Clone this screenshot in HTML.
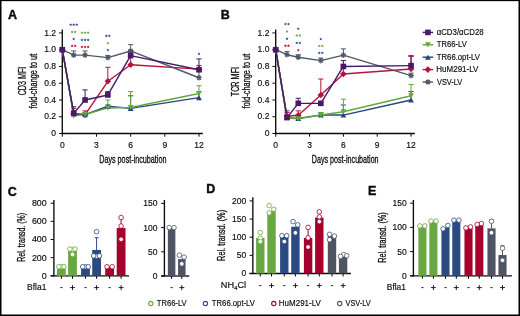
<!DOCTYPE html>
<html><head><meta charset="utf-8"><style>
html,body{margin:0;padding:0;background:#fff;}
body{width:520px;height:316px;overflow:hidden;}
svg{display:block;font-family:"Liberation Sans",sans-serif;will-change:transform;}
</style></head><body>
<svg width="520" height="316" viewBox="0 0 520 316">
<rect x="0" y="0" width="520" height="316" fill="#fff"/>
<line x1="62.30" y1="29.40" x2="62.30" y2="134.10" stroke="#0a0a0a" stroke-width="1.35" />
<line x1="61.70" y1="133.50" x2="202.78" y2="133.50" stroke="#0a0a0a" stroke-width="1.35" />
<line x1="59.00" y1="133.50" x2="62.30" y2="133.50" stroke="#0a0a0a" stroke-width="1.0" />
<text x="56.00" y="136.15" font-size="8.5" text-anchor="end" fill="#0a0a0a" font-weight="normal" stroke="#0a0a0a" stroke-width="0.15" >0</text>
<line x1="59.00" y1="116.74" x2="62.30" y2="116.74" stroke="#0a0a0a" stroke-width="1.0" />
<text x="56.00" y="119.39" font-size="8.5" text-anchor="end" fill="#0a0a0a" font-weight="normal" stroke="#0a0a0a" stroke-width="0.15" >0.2</text>
<line x1="59.00" y1="99.98" x2="62.30" y2="99.98" stroke="#0a0a0a" stroke-width="1.0" />
<text x="56.00" y="102.63" font-size="8.5" text-anchor="end" fill="#0a0a0a" font-weight="normal" stroke="#0a0a0a" stroke-width="0.15" >0.4</text>
<line x1="59.00" y1="83.22" x2="62.30" y2="83.22" stroke="#0a0a0a" stroke-width="1.0" />
<text x="56.00" y="85.87" font-size="8.5" text-anchor="end" fill="#0a0a0a" font-weight="normal" stroke="#0a0a0a" stroke-width="0.15" >0.6</text>
<line x1="59.00" y1="66.46" x2="62.30" y2="66.46" stroke="#0a0a0a" stroke-width="1.0" />
<text x="56.00" y="69.11" font-size="8.5" text-anchor="end" fill="#0a0a0a" font-weight="normal" stroke="#0a0a0a" stroke-width="0.15" >0.8</text>
<line x1="59.00" y1="49.70" x2="62.30" y2="49.70" stroke="#0a0a0a" stroke-width="1.0" />
<text x="56.00" y="52.35" font-size="8.5" text-anchor="end" fill="#0a0a0a" font-weight="normal" stroke="#0a0a0a" stroke-width="0.15" >1.0</text>
<line x1="59.00" y1="32.94" x2="62.30" y2="32.94" stroke="#0a0a0a" stroke-width="1.0" />
<text x="56.00" y="35.59" font-size="8.5" text-anchor="end" fill="#0a0a0a" font-weight="normal" stroke="#0a0a0a" stroke-width="0.15" >1.2</text>
<line x1="62.30" y1="133.50" x2="62.30" y2="136.70" stroke="#0a0a0a" stroke-width="1.0" />
<text x="62.30" y="147.80" font-size="8.5" text-anchor="middle" fill="#0a0a0a" font-weight="normal" stroke="#0a0a0a" stroke-width="0.15" >0</text>
<line x1="96.47" y1="133.50" x2="96.47" y2="136.70" stroke="#0a0a0a" stroke-width="1.0" />
<text x="96.47" y="147.80" font-size="8.5" text-anchor="middle" fill="#0a0a0a" font-weight="normal" stroke="#0a0a0a" stroke-width="0.15" >3</text>
<line x1="130.64" y1="133.50" x2="130.64" y2="136.70" stroke="#0a0a0a" stroke-width="1.0" />
<text x="130.64" y="147.80" font-size="8.5" text-anchor="middle" fill="#0a0a0a" font-weight="normal" stroke="#0a0a0a" stroke-width="0.15" >6</text>
<line x1="164.81" y1="133.50" x2="164.81" y2="136.70" stroke="#0a0a0a" stroke-width="1.0" />
<text x="164.81" y="147.80" font-size="8.5" text-anchor="middle" fill="#0a0a0a" font-weight="normal" stroke="#0a0a0a" stroke-width="0.15" >9</text>
<line x1="198.98" y1="133.50" x2="198.98" y2="136.70" stroke="#0a0a0a" stroke-width="1.0" />
<text x="198.98" y="147.80" font-size="8.5" text-anchor="middle" fill="#0a0a0a" font-weight="normal" stroke="#0a0a0a" stroke-width="0.15" >12</text>
<polyline points="62.30,49.70 73.69,113.39 85.08,114.64 107.86,81.29 130.64,64.78 198.98,69.14" fill="none" stroke="#b8123a" stroke-width="1.4" stroke-linejoin="round"/>
<line x1="73.69" y1="113.39" x2="73.69" y2="108.36" stroke="#b8123a" stroke-width="1.0" />
<line x1="71.09" y1="108.36" x2="76.29" y2="108.36" stroke="#b8123a" stroke-width="1.0" />
<line x1="85.08" y1="114.64" x2="85.08" y2="110.87" stroke="#b8123a" stroke-width="1.0" />
<line x1="82.48" y1="110.87" x2="87.68" y2="110.87" stroke="#b8123a" stroke-width="1.0" />
<line x1="107.86" y1="81.29" x2="107.86" y2="67.30" stroke="#b8123a" stroke-width="1.0" />
<line x1="105.26" y1="67.30" x2="110.46" y2="67.30" stroke="#b8123a" stroke-width="1.0" />
<line x1="130.64" y1="64.78" x2="130.64" y2="52.63" stroke="#b8123a" stroke-width="1.0" />
<line x1="128.04" y1="52.63" x2="133.24" y2="52.63" stroke="#b8123a" stroke-width="1.0" />
<line x1="198.98" y1="69.14" x2="198.98" y2="65.45" stroke="#b8123a" stroke-width="1.0" />
<line x1="196.38" y1="65.45" x2="201.58" y2="65.45" stroke="#b8123a" stroke-width="1.0" />
<polyline points="62.30,49.70 73.69,55.15 85.08,55.15 107.86,57.66 130.64,50.96 198.98,77.77" fill="none" stroke="#4f5867" stroke-width="1.4" stroke-linejoin="round"/>
<line x1="73.69" y1="55.15" x2="73.69" y2="50.96" stroke="#4f5867" stroke-width="1.0" />
<line x1="71.09" y1="50.96" x2="76.29" y2="50.96" stroke="#4f5867" stroke-width="1.0" />
<line x1="85.08" y1="55.15" x2="85.08" y2="50.96" stroke="#4f5867" stroke-width="1.0" />
<line x1="82.48" y1="50.96" x2="87.68" y2="50.96" stroke="#4f5867" stroke-width="1.0" />
<line x1="107.86" y1="57.66" x2="107.86" y2="55.57" stroke="#4f5867" stroke-width="1.0" />
<line x1="105.26" y1="55.57" x2="110.46" y2="55.57" stroke="#4f5867" stroke-width="1.0" />
<line x1="130.64" y1="50.96" x2="130.64" y2="44.67" stroke="#4f5867" stroke-width="1.0" />
<line x1="128.04" y1="44.67" x2="133.24" y2="44.67" stroke="#4f5867" stroke-width="1.0" />
<line x1="198.98" y1="77.77" x2="198.98" y2="71.49" stroke="#4f5867" stroke-width="1.0" />
<line x1="196.38" y1="71.49" x2="201.58" y2="71.49" stroke="#4f5867" stroke-width="1.0" />
<polyline points="62.30,49.70 73.69,113.81 85.08,114.64 107.86,106.27 130.64,108.36 198.98,97.63" fill="none" stroke="#254482" stroke-width="1.4" stroke-linejoin="round"/>
<line x1="73.69" y1="113.81" x2="73.69" y2="106.68" stroke="#254482" stroke-width="1.0" />
<line x1="71.09" y1="106.68" x2="76.29" y2="106.68" stroke="#254482" stroke-width="1.0" />
<line x1="85.08" y1="114.64" x2="85.08" y2="112.55" stroke="#254482" stroke-width="1.0" />
<line x1="82.48" y1="112.55" x2="87.68" y2="112.55" stroke="#254482" stroke-width="1.0" />
<line x1="107.86" y1="106.27" x2="107.86" y2="105.01" stroke="#254482" stroke-width="1.0" />
<line x1="105.26" y1="105.01" x2="110.46" y2="105.01" stroke="#254482" stroke-width="1.0" />
<line x1="130.64" y1="108.36" x2="130.64" y2="95.79" stroke="#254482" stroke-width="1.0" />
<line x1="128.04" y1="95.79" x2="133.24" y2="95.79" stroke="#254482" stroke-width="1.0" />
<line x1="198.98" y1="97.63" x2="198.98" y2="91.60" stroke="#254482" stroke-width="1.0" />
<line x1="196.38" y1="91.60" x2="201.58" y2="91.60" stroke="#254482" stroke-width="1.0" />
<polyline points="62.30,49.70 73.69,115.90 85.08,114.64 107.86,107.94 130.64,107.52 198.98,93.44" fill="none" stroke="#62a93a" stroke-width="1.4" stroke-linejoin="round"/>
<line x1="73.69" y1="115.90" x2="73.69" y2="111.71" stroke="#62a93a" stroke-width="1.0" />
<line x1="71.09" y1="111.71" x2="76.29" y2="111.71" stroke="#62a93a" stroke-width="1.0" />
<line x1="85.08" y1="114.64" x2="85.08" y2="112.55" stroke="#62a93a" stroke-width="1.0" />
<line x1="82.48" y1="112.55" x2="87.68" y2="112.55" stroke="#62a93a" stroke-width="1.0" />
<line x1="107.86" y1="107.94" x2="107.86" y2="99.98" stroke="#62a93a" stroke-width="1.0" />
<line x1="105.26" y1="99.98" x2="110.46" y2="99.98" stroke="#62a93a" stroke-width="1.0" />
<line x1="130.64" y1="107.52" x2="130.64" y2="91.60" stroke="#62a93a" stroke-width="1.0" />
<line x1="128.04" y1="91.60" x2="133.24" y2="91.60" stroke="#62a93a" stroke-width="1.0" />
<line x1="198.98" y1="93.44" x2="198.98" y2="85.73" stroke="#62a93a" stroke-width="1.0" />
<line x1="196.38" y1="85.73" x2="201.58" y2="85.73" stroke="#62a93a" stroke-width="1.0" />
<polyline points="62.30,49.70 73.69,113.39 85.08,99.98 107.86,94.95 130.64,55.57 198.98,69.73" fill="none" stroke="#461a69" stroke-width="1.4" stroke-linejoin="round"/>
<line x1="73.69" y1="113.39" x2="73.69" y2="110.87" stroke="#461a69" stroke-width="1.0" />
<line x1="71.09" y1="110.87" x2="76.29" y2="110.87" stroke="#461a69" stroke-width="1.0" />
<line x1="85.08" y1="99.98" x2="85.08" y2="89.92" stroke="#461a69" stroke-width="1.0" />
<line x1="82.48" y1="89.92" x2="87.68" y2="89.92" stroke="#461a69" stroke-width="1.0" />
<line x1="107.86" y1="94.95" x2="107.86" y2="91.60" stroke="#461a69" stroke-width="1.0" />
<line x1="105.26" y1="91.60" x2="110.46" y2="91.60" stroke="#461a69" stroke-width="1.0" />
<line x1="130.64" y1="55.57" x2="130.64" y2="50.54" stroke="#461a69" stroke-width="1.0" />
<line x1="128.04" y1="50.54" x2="133.24" y2="50.54" stroke="#461a69" stroke-width="1.0" />
<line x1="198.98" y1="69.73" x2="198.98" y2="58.92" stroke="#461a69" stroke-width="1.0" />
<line x1="196.38" y1="58.92" x2="201.58" y2="58.92" stroke="#461a69" stroke-width="1.0" />
<polygon points="62.30,46.40 65.60,49.70 62.30,53.00 59.00,49.70" fill="#b8123a"/>
<polygon points="73.69,110.09 76.99,113.39 73.69,116.69 70.39,113.39" fill="#b8123a"/>
<polygon points="85.08,111.34 88.38,114.64 85.08,117.94 81.78,114.64" fill="#b8123a"/>
<polygon points="107.86,77.99 111.16,81.29 107.86,84.59 104.56,81.29" fill="#b8123a"/>
<polygon points="130.64,61.48 133.94,64.78 130.64,68.08 127.34,64.78" fill="#b8123a"/>
<polygon points="198.98,65.84 202.28,69.14 198.98,72.44 195.68,69.14" fill="#b8123a"/>
<path d="M62.30,46.90L62.30,52.50M64.28,47.72L60.32,51.68M65.10,49.70L59.50,49.70M64.28,51.68L60.32,47.72" stroke="#4f5867" stroke-width="1.15" fill="none"/>
<path d="M73.69,52.35L73.69,57.95M75.67,53.17L71.71,57.13M76.49,55.15L70.89,55.15M75.67,57.13L71.71,53.17" stroke="#4f5867" stroke-width="1.15" fill="none"/>
<path d="M85.08,52.35L85.08,57.95M87.06,53.17L83.10,57.13M87.88,55.15L82.28,55.15M87.06,57.13L83.10,53.17" stroke="#4f5867" stroke-width="1.15" fill="none"/>
<path d="M107.86,54.86L107.86,60.46M109.84,55.68L105.88,59.64M110.66,57.66L105.06,57.66M109.84,59.64L105.88,55.68" stroke="#4f5867" stroke-width="1.15" fill="none"/>
<path d="M130.64,48.16L130.64,53.76M132.62,48.98L128.66,52.94M133.44,50.96L127.84,50.96M132.62,52.94L128.66,48.98" stroke="#4f5867" stroke-width="1.15" fill="none"/>
<path d="M198.98,74.97L198.98,80.57M200.96,75.79L197.00,79.75M201.78,77.77L196.18,77.77M200.96,79.75L197.00,75.79" stroke="#4f5867" stroke-width="1.15" fill="none"/>
<polygon points="59.40,52.22 65.20,52.22 62.30,47.18" fill="#254482"/>
<polygon points="70.79,116.33 76.59,116.33 73.69,111.28" fill="#254482"/>
<polygon points="82.18,117.17 87.98,117.17 85.08,112.12" fill="#254482"/>
<polygon points="104.96,108.79 110.76,108.79 107.86,103.74" fill="#254482"/>
<polygon points="127.74,110.88 133.54,110.88 130.64,105.84" fill="#254482"/>
<polygon points="196.08,100.16 201.88,100.16 198.98,95.11" fill="#254482"/>
<polygon points="59.40,47.18 65.20,47.18 62.30,52.22" fill="#62a93a"/>
<polygon points="70.79,113.38 76.59,113.38 73.69,118.42" fill="#62a93a"/>
<polygon points="82.18,112.12 87.98,112.12 85.08,117.17" fill="#62a93a"/>
<polygon points="104.96,105.42 110.76,105.42 107.86,110.46" fill="#62a93a"/>
<polygon points="127.74,105.00 133.54,105.00 130.64,110.05" fill="#62a93a"/>
<polygon points="196.08,90.92 201.88,90.92 198.98,95.97" fill="#62a93a"/>
<rect x="59.50" y="46.90" width="5.6" height="5.6" fill="#461a69"/>
<rect x="70.89" y="110.59" width="5.6" height="5.6" fill="#461a69"/>
<rect x="82.28" y="97.18" width="5.6" height="5.6" fill="#461a69"/>
<rect x="105.06" y="92.15" width="5.6" height="5.6" fill="#461a69"/>
<rect x="127.84" y="52.77" width="5.6" height="5.6" fill="#461a69"/>
<rect x="196.18" y="66.93" width="5.6" height="5.6" fill="#461a69"/>
<polygon points="70.64,23.15 71.14,24.01 72.11,24.22 71.45,24.96 71.55,25.95 70.64,25.55 69.73,25.95 69.83,24.96 69.17,24.22 70.14,24.01" fill="#65418e"/>
<polygon points="73.69,23.15 74.19,24.01 75.16,24.22 74.50,24.96 74.60,25.95 73.69,25.55 72.78,25.95 72.88,24.96 72.22,24.22 73.19,24.01" fill="#65418e"/>
<polygon points="76.74,23.15 77.24,24.01 78.21,24.22 77.55,24.96 77.65,25.95 76.74,25.55 75.83,25.95 75.93,24.96 75.27,24.22 76.24,24.01" fill="#65418e"/>
<polygon points="72.16,30.45 72.67,31.31 73.64,31.52 72.98,32.26 73.08,33.25 72.16,32.85 71.25,33.25 71.35,32.26 70.69,31.52 71.66,31.31" fill="#6aae45"/>
<polygon points="75.22,30.45 75.72,31.31 76.69,31.52 76.03,32.26 76.13,33.25 75.22,32.85 74.30,33.25 74.40,32.26 73.74,31.52 74.71,31.31" fill="#6aae45"/>
<polygon points="73.69,37.45 74.19,38.31 75.16,38.52 74.50,39.26 74.60,40.25 73.69,39.85 72.78,40.25 72.88,39.26 72.22,38.52 73.19,38.31" fill="#375894"/>
<polygon points="72.16,44.45 72.67,45.31 73.64,45.52 72.98,46.26 73.08,47.25 72.16,46.85 71.25,47.25 71.35,46.26 70.69,45.52 71.66,45.31" fill="#c21c3e"/>
<polygon points="75.22,44.45 75.72,45.31 76.69,45.52 76.03,46.26 76.13,47.25 75.22,46.85 74.30,47.25 74.40,46.26 73.74,45.52 74.71,45.31" fill="#c21c3e"/>
<polygon points="82.03,31.15 82.53,32.01 83.50,32.22 82.84,32.96 82.94,33.95 82.03,33.55 81.12,33.95 81.22,32.96 80.56,32.22 81.53,32.01" fill="#6aae45"/>
<polygon points="85.08,31.15 85.58,32.01 86.55,32.22 85.89,32.96 85.99,33.95 85.08,33.55 84.17,33.95 84.27,32.96 83.61,32.22 84.58,32.01" fill="#6aae45"/>
<polygon points="88.13,31.15 88.63,32.01 89.60,32.22 88.94,32.96 89.04,33.95 88.13,33.55 87.22,33.95 87.32,32.96 86.66,32.22 87.63,32.01" fill="#6aae45"/>
<polygon points="82.03,38.45 82.53,39.31 83.50,39.52 82.84,40.26 82.94,41.25 82.03,40.85 81.12,41.25 81.22,40.26 80.56,39.52 81.53,39.31" fill="#375894"/>
<polygon points="85.08,38.45 85.58,39.31 86.55,39.52 85.89,40.26 85.99,41.25 85.08,40.85 84.17,41.25 84.27,40.26 83.61,39.52 84.58,39.31" fill="#375894"/>
<polygon points="88.13,38.45 88.63,39.31 89.60,39.52 88.94,40.26 89.04,41.25 88.13,40.85 87.22,41.25 87.32,40.26 86.66,39.52 87.63,39.31" fill="#375894"/>
<polygon points="82.03,45.45 82.53,46.31 83.50,46.52 82.84,47.26 82.94,48.25 82.03,47.85 81.12,48.25 81.22,47.26 80.56,46.52 81.53,46.31" fill="#c21c3e"/>
<polygon points="85.08,45.45 85.58,46.31 86.55,46.52 85.89,47.26 85.99,48.25 85.08,47.85 84.17,48.25 84.27,47.26 83.61,46.52 84.58,46.31" fill="#c21c3e"/>
<polygon points="88.13,45.45 88.63,46.31 89.60,46.52 88.94,47.26 89.04,48.25 88.13,47.85 87.22,48.25 87.32,47.26 86.66,46.52 87.63,46.31" fill="#c21c3e"/>
<polygon points="106.33,34.35 106.84,35.21 107.81,35.42 107.15,36.16 107.25,37.15 106.33,36.75 105.42,37.15 105.52,36.16 104.86,35.42 105.83,35.21" fill="#65418e"/>
<polygon points="109.39,34.35 109.89,35.21 110.86,35.42 110.20,36.16 110.30,37.15 109.39,36.75 108.47,37.15 108.57,36.16 107.91,35.42 108.88,35.21" fill="#65418e"/>
<polygon points="107.86,41.65 108.36,42.51 109.33,42.72 108.67,43.46 108.77,44.45 107.86,44.05 106.95,44.45 107.05,43.46 106.39,42.72 107.36,42.51" fill="#6aae45"/>
<polygon points="107.86,48.55 108.36,49.41 109.33,49.62 108.67,50.36 108.77,51.35 107.86,50.95 106.95,51.35 107.05,50.36 106.39,49.62 107.36,49.41" fill="#375894"/>
<polygon points="198.98,52.35 199.48,53.21 200.45,53.42 199.79,54.16 199.89,55.15 198.98,54.75 198.07,55.15 198.17,54.16 197.51,53.42 198.48,53.21" fill="#375894"/>
<line x1="275.70" y1="29.40" x2="275.70" y2="134.10" stroke="#0a0a0a" stroke-width="1.35" />
<line x1="275.10" y1="133.50" x2="414.86" y2="133.50" stroke="#0a0a0a" stroke-width="1.35" />
<line x1="272.40" y1="133.50" x2="275.70" y2="133.50" stroke="#0a0a0a" stroke-width="1.0" />
<text x="269.40" y="136.15" font-size="8.5" text-anchor="end" fill="#0a0a0a" font-weight="normal" stroke="#0a0a0a" stroke-width="0.15" >0</text>
<line x1="272.40" y1="116.74" x2="275.70" y2="116.74" stroke="#0a0a0a" stroke-width="1.0" />
<text x="269.40" y="119.39" font-size="8.5" text-anchor="end" fill="#0a0a0a" font-weight="normal" stroke="#0a0a0a" stroke-width="0.15" >0.2</text>
<line x1="272.40" y1="99.98" x2="275.70" y2="99.98" stroke="#0a0a0a" stroke-width="1.0" />
<text x="269.40" y="102.63" font-size="8.5" text-anchor="end" fill="#0a0a0a" font-weight="normal" stroke="#0a0a0a" stroke-width="0.15" >0.4</text>
<line x1="272.40" y1="83.22" x2="275.70" y2="83.22" stroke="#0a0a0a" stroke-width="1.0" />
<text x="269.40" y="85.87" font-size="8.5" text-anchor="end" fill="#0a0a0a" font-weight="normal" stroke="#0a0a0a" stroke-width="0.15" >0.6</text>
<line x1="272.40" y1="66.46" x2="275.70" y2="66.46" stroke="#0a0a0a" stroke-width="1.0" />
<text x="269.40" y="69.11" font-size="8.5" text-anchor="end" fill="#0a0a0a" font-weight="normal" stroke="#0a0a0a" stroke-width="0.15" >0.8</text>
<line x1="272.40" y1="49.70" x2="275.70" y2="49.70" stroke="#0a0a0a" stroke-width="1.0" />
<text x="269.40" y="52.35" font-size="8.5" text-anchor="end" fill="#0a0a0a" font-weight="normal" stroke="#0a0a0a" stroke-width="0.15" >1.0</text>
<line x1="272.40" y1="32.94" x2="275.70" y2="32.94" stroke="#0a0a0a" stroke-width="1.0" />
<text x="269.40" y="35.59" font-size="8.5" text-anchor="end" fill="#0a0a0a" font-weight="normal" stroke="#0a0a0a" stroke-width="0.15" >1.2</text>
<line x1="275.70" y1="133.50" x2="275.70" y2="136.70" stroke="#0a0a0a" stroke-width="1.0" />
<text x="275.70" y="147.80" font-size="8.5" text-anchor="middle" fill="#0a0a0a" font-weight="normal" stroke="#0a0a0a" stroke-width="0.15" >0</text>
<line x1="309.54" y1="133.50" x2="309.54" y2="136.70" stroke="#0a0a0a" stroke-width="1.0" />
<text x="309.54" y="147.80" font-size="8.5" text-anchor="middle" fill="#0a0a0a" font-weight="normal" stroke="#0a0a0a" stroke-width="0.15" >3</text>
<line x1="343.38" y1="133.50" x2="343.38" y2="136.70" stroke="#0a0a0a" stroke-width="1.0" />
<text x="343.38" y="147.80" font-size="8.5" text-anchor="middle" fill="#0a0a0a" font-weight="normal" stroke="#0a0a0a" stroke-width="0.15" >6</text>
<line x1="377.22" y1="133.50" x2="377.22" y2="136.70" stroke="#0a0a0a" stroke-width="1.0" />
<text x="377.22" y="147.80" font-size="8.5" text-anchor="middle" fill="#0a0a0a" font-weight="normal" stroke="#0a0a0a" stroke-width="0.15" >9</text>
<line x1="411.06" y1="133.50" x2="411.06" y2="136.70" stroke="#0a0a0a" stroke-width="1.0" />
<text x="411.06" y="147.80" font-size="8.5" text-anchor="middle" fill="#0a0a0a" font-weight="normal" stroke="#0a0a0a" stroke-width="0.15" >12</text>
<polyline points="275.70,49.70 286.98,116.32 298.26,115.23 320.82,94.95 343.38,74.00 411.06,68.97" fill="none" stroke="#b8123a" stroke-width="1.4" stroke-linejoin="round"/>
<line x1="286.98" y1="116.32" x2="286.98" y2="112.55" stroke="#b8123a" stroke-width="1.0" />
<line x1="284.38" y1="112.55" x2="289.58" y2="112.55" stroke="#b8123a" stroke-width="1.0" />
<line x1="298.26" y1="115.23" x2="298.26" y2="110.87" stroke="#b8123a" stroke-width="1.0" />
<line x1="295.66" y1="110.87" x2="300.86" y2="110.87" stroke="#b8123a" stroke-width="1.0" />
<line x1="320.82" y1="94.95" x2="320.82" y2="79.03" stroke="#b8123a" stroke-width="1.0" />
<line x1="318.22" y1="79.03" x2="323.42" y2="79.03" stroke="#b8123a" stroke-width="1.0" />
<line x1="343.38" y1="74.00" x2="343.38" y2="68.14" stroke="#b8123a" stroke-width="1.0" />
<line x1="340.78" y1="68.14" x2="345.98" y2="68.14" stroke="#b8123a" stroke-width="1.0" />
<line x1="411.06" y1="68.97" x2="411.06" y2="55.98" stroke="#b8123a" stroke-width="1.0" />
<line x1="408.46" y1="55.98" x2="413.66" y2="55.98" stroke="#b8123a" stroke-width="1.0" />
<polyline points="275.70,49.70 286.98,54.73 298.26,57.24 320.82,60.59 343.38,55.15 411.06,75.68" fill="none" stroke="#4f5867" stroke-width="1.4" stroke-linejoin="round"/>
<line x1="286.98" y1="54.73" x2="286.98" y2="51.38" stroke="#4f5867" stroke-width="1.0" />
<line x1="284.38" y1="51.38" x2="289.58" y2="51.38" stroke="#4f5867" stroke-width="1.0" />
<line x1="298.26" y1="57.24" x2="298.26" y2="54.73" stroke="#4f5867" stroke-width="1.0" />
<line x1="295.66" y1="54.73" x2="300.86" y2="54.73" stroke="#4f5867" stroke-width="1.0" />
<line x1="320.82" y1="60.59" x2="320.82" y2="58.08" stroke="#4f5867" stroke-width="1.0" />
<line x1="318.22" y1="58.08" x2="323.42" y2="58.08" stroke="#4f5867" stroke-width="1.0" />
<line x1="343.38" y1="55.15" x2="343.38" y2="48.86" stroke="#4f5867" stroke-width="1.0" />
<line x1="340.78" y1="48.86" x2="345.98" y2="48.86" stroke="#4f5867" stroke-width="1.0" />
<line x1="411.06" y1="75.68" x2="411.06" y2="73.16" stroke="#4f5867" stroke-width="1.0" />
<line x1="408.46" y1="73.16" x2="413.66" y2="73.16" stroke="#4f5867" stroke-width="1.0" />
<polyline points="275.70,49.70 286.98,117.58 298.26,118.42 320.82,115.06 343.38,115.06 411.06,99.98" fill="none" stroke="#254482" stroke-width="1.4" stroke-linejoin="round"/>
<line x1="286.98" y1="117.58" x2="286.98" y2="110.87" stroke="#254482" stroke-width="1.0" />
<line x1="284.38" y1="110.87" x2="289.58" y2="110.87" stroke="#254482" stroke-width="1.0" />
<line x1="298.26" y1="118.42" x2="298.26" y2="116.74" stroke="#254482" stroke-width="1.0" />
<line x1="295.66" y1="116.74" x2="300.86" y2="116.74" stroke="#254482" stroke-width="1.0" />
<line x1="320.82" y1="115.06" x2="320.82" y2="112.55" stroke="#254482" stroke-width="1.0" />
<line x1="318.22" y1="112.55" x2="323.42" y2="112.55" stroke="#254482" stroke-width="1.0" />
<line x1="343.38" y1="115.06" x2="343.38" y2="105.01" stroke="#254482" stroke-width="1.0" />
<line x1="340.78" y1="105.01" x2="345.98" y2="105.01" stroke="#254482" stroke-width="1.0" />
<line x1="411.06" y1="99.98" x2="411.06" y2="91.60" stroke="#254482" stroke-width="1.0" />
<line x1="408.46" y1="91.60" x2="413.66" y2="91.60" stroke="#254482" stroke-width="1.0" />
<polyline points="275.70,49.70 286.98,118.00 298.26,118.84 320.82,115.06 343.38,111.71 411.06,95.79" fill="none" stroke="#62a93a" stroke-width="1.4" stroke-linejoin="round"/>
<line x1="286.98" y1="118.00" x2="286.98" y2="115.06" stroke="#62a93a" stroke-width="1.0" />
<line x1="284.38" y1="115.06" x2="289.58" y2="115.06" stroke="#62a93a" stroke-width="1.0" />
<line x1="298.26" y1="118.84" x2="298.26" y2="116.74" stroke="#62a93a" stroke-width="1.0" />
<line x1="295.66" y1="116.74" x2="300.86" y2="116.74" stroke="#62a93a" stroke-width="1.0" />
<line x1="320.82" y1="115.06" x2="320.82" y2="112.55" stroke="#62a93a" stroke-width="1.0" />
<line x1="318.22" y1="112.55" x2="323.42" y2="112.55" stroke="#62a93a" stroke-width="1.0" />
<line x1="343.38" y1="111.71" x2="343.38" y2="99.14" stroke="#62a93a" stroke-width="1.0" />
<line x1="340.78" y1="99.14" x2="345.98" y2="99.14" stroke="#62a93a" stroke-width="1.0" />
<line x1="411.06" y1="95.79" x2="411.06" y2="84.48" stroke="#62a93a" stroke-width="1.0" />
<line x1="408.46" y1="84.48" x2="413.66" y2="84.48" stroke="#62a93a" stroke-width="1.0" />
<polyline points="275.70,49.70 286.98,117.58 298.26,103.33 320.82,103.33 343.38,66.46 411.06,65.62" fill="none" stroke="#461a69" stroke-width="1.4" stroke-linejoin="round"/>
<line x1="286.98" y1="117.58" x2="286.98" y2="115.06" stroke="#461a69" stroke-width="1.0" />
<line x1="284.38" y1="115.06" x2="289.58" y2="115.06" stroke="#461a69" stroke-width="1.0" />
<line x1="298.26" y1="103.33" x2="298.26" y2="98.30" stroke="#461a69" stroke-width="1.0" />
<line x1="295.66" y1="98.30" x2="300.86" y2="98.30" stroke="#461a69" stroke-width="1.0" />
<line x1="320.82" y1="103.33" x2="320.82" y2="101.66" stroke="#461a69" stroke-width="1.0" />
<line x1="318.22" y1="101.66" x2="323.42" y2="101.66" stroke="#461a69" stroke-width="1.0" />
<line x1="343.38" y1="66.46" x2="343.38" y2="60.59" stroke="#461a69" stroke-width="1.0" />
<line x1="340.78" y1="60.59" x2="345.98" y2="60.59" stroke="#461a69" stroke-width="1.0" />
<line x1="411.06" y1="65.62" x2="411.06" y2="55.98" stroke="#461a69" stroke-width="1.0" />
<line x1="408.46" y1="55.98" x2="413.66" y2="55.98" stroke="#461a69" stroke-width="1.0" />
<polygon points="275.70,46.40 279.00,49.70 275.70,53.00 272.40,49.70" fill="#b8123a"/>
<polygon points="286.98,113.02 290.28,116.32 286.98,119.62 283.68,116.32" fill="#b8123a"/>
<polygon points="298.26,111.93 301.56,115.23 298.26,118.53 294.96,115.23" fill="#b8123a"/>
<polygon points="320.82,91.65 324.12,94.95 320.82,98.25 317.52,94.95" fill="#b8123a"/>
<polygon points="343.38,70.70 346.68,74.00 343.38,77.30 340.08,74.00" fill="#b8123a"/>
<polygon points="411.06,65.67 414.36,68.97 411.06,72.27 407.76,68.97" fill="#b8123a"/>
<path d="M275.70,46.90L275.70,52.50M277.68,47.72L273.72,51.68M278.50,49.70L272.90,49.70M277.68,51.68L273.72,47.72" stroke="#4f5867" stroke-width="1.15" fill="none"/>
<path d="M286.98,51.93L286.98,57.53M288.96,52.75L285.00,56.71M289.78,54.73L284.18,54.73M288.96,56.71L285.00,52.75" stroke="#4f5867" stroke-width="1.15" fill="none"/>
<path d="M298.26,54.44L298.26,60.04M300.24,55.26L296.28,59.22M301.06,57.24L295.46,57.24M300.24,59.22L296.28,55.26" stroke="#4f5867" stroke-width="1.15" fill="none"/>
<path d="M320.82,57.79L320.82,63.39M322.80,58.61L318.84,62.57M323.62,60.59L318.02,60.59M322.80,62.57L318.84,58.61" stroke="#4f5867" stroke-width="1.15" fill="none"/>
<path d="M343.38,52.35L343.38,57.95M345.36,53.17L341.40,57.13M346.18,55.15L340.58,55.15M345.36,57.13L341.40,53.17" stroke="#4f5867" stroke-width="1.15" fill="none"/>
<path d="M411.06,72.88L411.06,78.48M413.04,73.70L409.08,77.66M413.86,75.68L408.26,75.68M413.04,77.66L409.08,73.70" stroke="#4f5867" stroke-width="1.15" fill="none"/>
<polygon points="272.80,52.22 278.60,52.22 275.70,47.18" fill="#254482"/>
<polygon points="284.08,120.10 289.88,120.10 286.98,115.06" fill="#254482"/>
<polygon points="295.36,120.94 301.16,120.94 298.26,115.89" fill="#254482"/>
<polygon points="317.92,117.59 323.72,117.59 320.82,112.54" fill="#254482"/>
<polygon points="340.48,117.59 346.28,117.59 343.38,112.54" fill="#254482"/>
<polygon points="408.16,102.50 413.96,102.50 411.06,97.46" fill="#254482"/>
<polygon points="272.80,47.18 278.60,47.18 275.70,52.22" fill="#62a93a"/>
<polygon points="284.08,115.47 289.88,115.47 286.98,120.52" fill="#62a93a"/>
<polygon points="295.36,116.31 301.16,116.31 298.26,121.36" fill="#62a93a"/>
<polygon points="317.92,112.54 323.72,112.54 320.82,117.59" fill="#62a93a"/>
<polygon points="340.48,109.19 346.28,109.19 343.38,114.23" fill="#62a93a"/>
<polygon points="408.16,93.27 413.96,93.27 411.06,98.31" fill="#62a93a"/>
<rect x="272.90" y="46.90" width="5.6" height="5.6" fill="#461a69"/>
<rect x="284.18" y="114.78" width="5.6" height="5.6" fill="#461a69"/>
<rect x="295.46" y="100.53" width="5.6" height="5.6" fill="#461a69"/>
<rect x="318.02" y="100.53" width="5.6" height="5.6" fill="#461a69"/>
<rect x="340.58" y="63.66" width="5.6" height="5.6" fill="#461a69"/>
<rect x="408.26" y="62.82" width="5.6" height="5.6" fill="#461a69"/>
<polygon points="285.45,22.55 285.96,23.41 286.93,23.62 286.27,24.36 286.37,25.35 285.45,24.95 284.54,25.35 284.64,24.36 283.98,23.62 284.95,23.41" fill="#65418e"/>
<polygon points="288.50,22.55 289.01,23.41 289.98,23.62 289.32,24.36 289.42,25.35 288.50,24.95 287.59,25.35 287.69,24.36 287.03,23.62 288.00,23.41" fill="#65418e"/>
<polygon points="286.98,29.95 287.48,30.81 288.45,31.02 287.79,31.76 287.89,32.75 286.98,32.35 286.07,32.75 286.17,31.76 285.51,31.02 286.48,30.81" fill="#6aae45"/>
<polygon points="286.98,37.25 287.48,38.11 288.45,38.32 287.79,39.06 287.89,40.05 286.98,39.65 286.07,40.05 286.17,39.06 285.51,38.32 286.48,38.11" fill="#375894"/>
<polygon points="285.45,44.25 285.96,45.11 286.93,45.32 286.27,46.06 286.37,47.05 285.45,46.65 284.54,47.05 284.64,46.06 283.98,45.32 284.95,45.11" fill="#c21c3e"/>
<polygon points="288.50,44.25 289.01,45.11 289.98,45.32 289.32,46.06 289.42,47.05 288.50,46.65 287.59,47.05 287.69,46.06 287.03,45.32 288.00,45.11" fill="#c21c3e"/>
<polygon points="298.26,27.15 298.76,28.01 299.73,28.22 299.07,28.96 299.17,29.95 298.26,29.55 297.35,29.95 297.45,28.96 296.79,28.22 297.76,28.01" fill="#65418e"/>
<polygon points="296.74,33.95 297.24,34.81 298.21,35.02 297.55,35.76 297.65,36.75 296.74,36.35 295.82,36.75 295.92,35.76 295.26,35.02 296.23,34.81" fill="#6aae45"/>
<polygon points="299.78,33.95 300.29,34.81 301.26,35.02 300.60,35.76 300.70,36.75 299.78,36.35 298.87,36.75 298.97,35.76 298.31,35.02 299.28,34.81" fill="#6aae45"/>
<polygon points="296.74,41.45 297.24,42.31 298.21,42.52 297.55,43.26 297.65,44.25 296.74,43.85 295.82,44.25 295.92,43.26 295.26,42.52 296.23,42.31" fill="#375894"/>
<polygon points="299.78,41.45 300.29,42.31 301.26,42.52 300.60,43.26 300.70,44.25 299.78,43.85 298.87,44.25 298.97,43.26 298.31,42.52 299.28,42.31" fill="#375894"/>
<polygon points="298.26,48.65 298.76,49.51 299.73,49.72 299.07,50.46 299.17,51.45 298.26,51.05 297.35,51.45 297.45,50.46 296.79,49.72 297.76,49.51" fill="#c21c3e"/>
<polygon points="320.82,37.55 321.32,38.41 322.29,38.62 321.63,39.36 321.73,40.35 320.82,39.95 319.91,40.35 320.01,39.36 319.35,38.62 320.32,38.41" fill="#65418e"/>
<polygon points="319.30,44.45 319.80,45.31 320.77,45.52 320.11,46.26 320.21,47.25 319.30,46.85 318.38,47.25 318.48,46.26 317.82,45.52 318.79,45.31" fill="#6aae45"/>
<polygon points="322.34,44.45 322.85,45.31 323.82,45.52 323.16,46.26 323.26,47.25 322.34,46.85 321.43,47.25 321.53,46.26 320.87,45.52 321.84,45.31" fill="#6aae45"/>
<polygon points="319.30,51.45 319.80,52.31 320.77,52.52 320.11,53.26 320.21,54.25 319.30,53.85 318.38,54.25 318.48,53.26 317.82,52.52 318.79,52.31" fill="#375894"/>
<polygon points="322.34,51.45 322.85,52.31 323.82,52.52 323.16,53.26 323.26,54.25 322.34,53.85 321.43,54.25 321.53,53.26 320.87,52.52 321.84,52.31" fill="#375894"/>
<line x1="408.46" y1="55.98" x2="413.66" y2="55.98" stroke="#b8123a" stroke-width="1.0" />
<text transform="translate(26.00,95.30) rotate(-90)" x="0" y="0" font-size="10.6" fill="#0a0a0a" stroke="#0a0a0a" stroke-width="0.3" textLength="28.6" lengthAdjust="spacingAndGlyphs">CD3 MFI</text>
<text transform="translate(37.30,108.40) rotate(-90)" x="0" y="0" font-size="10.6" fill="#0a0a0a" stroke="#0a0a0a" stroke-width="0.3" textLength="54.6" lengthAdjust="spacingAndGlyphs">fold-change to ut</text>
<text x="99.20" y="163.00" font-size="10.8" fill="#0a0a0a" stroke="#0a0a0a" stroke-width="0.3" textLength="67.3" lengthAdjust="spacingAndGlyphs">Days post-incubation</text>
<text transform="translate(239.20,96.30) rotate(-90)" x="0" y="0" font-size="10.6" fill="#0a0a0a" stroke="#0a0a0a" stroke-width="0.3" textLength="29.4" lengthAdjust="spacingAndGlyphs">TCR MFI</text>
<text transform="translate(250.40,108.40) rotate(-90)" x="0" y="0" font-size="10.6" fill="#0a0a0a" stroke="#0a0a0a" stroke-width="0.3" textLength="54.6" lengthAdjust="spacingAndGlyphs">fold-change to ut</text>
<text x="311.80" y="163.00" font-size="10.8" fill="#0a0a0a" stroke="#0a0a0a" stroke-width="0.3" textLength="66.8" lengthAdjust="spacingAndGlyphs">Days post-incubation</text>
<line x1="422.60" y1="32.40" x2="433.20" y2="32.40" stroke="#461a69" stroke-width="1.4" />
<rect x="425.10" y="29.60" width="5.6" height="5.6" fill="#461a69"/>
<text x="436.69" y="34.90" font-size="8.5" fill="#0a0a0a" stroke="#0a0a0a" stroke-width="0.15" textLength="46.94" lengthAdjust="spacingAndGlyphs">αCD3/αCD28</text>
<line x1="422.60" y1="44.80" x2="433.20" y2="44.80" stroke="#62a93a" stroke-width="1.4" />
<polygon points="425.00,42.28 430.80,42.28 427.90,47.32" fill="#62a93a"/>
<text x="436.85" y="47.30" font-size="8.5" fill="#0a0a0a" stroke="#0a0a0a" stroke-width="0.15" textLength="29.91" lengthAdjust="spacingAndGlyphs">TR66-LV</text>
<line x1="422.60" y1="57.20" x2="433.20" y2="57.20" stroke="#254482" stroke-width="1.4" />
<polygon points="425.00,59.72 430.80,59.72 427.90,54.68" fill="#254482"/>
<text x="436.85" y="59.70" font-size="8.5" fill="#0a0a0a" stroke="#0a0a0a" stroke-width="0.15" textLength="43.10" lengthAdjust="spacingAndGlyphs">TR66.opt-LV</text>
<line x1="422.60" y1="69.60" x2="433.20" y2="69.60" stroke="#b8123a" stroke-width="1.4" />
<polygon points="427.90,66.30 431.20,69.60 427.90,72.90 424.60,69.60" fill="#b8123a"/>
<text x="436.36" y="72.10" font-size="8.5" fill="#0a0a0a" stroke="#0a0a0a" stroke-width="0.15" textLength="41.99" lengthAdjust="spacingAndGlyphs">HuM291-LV</text>
<line x1="422.60" y1="82.00" x2="433.20" y2="82.00" stroke="#4f5867" stroke-width="1.4" />
<path d="M427.90,79.20L427.90,84.80M429.88,80.02L425.92,83.98M430.70,82.00L425.10,82.00M429.88,83.98L425.92,80.02" stroke="#4f5867" stroke-width="1.15" fill="none"/>
<text x="436.96" y="84.50" font-size="8.5" fill="#0a0a0a" stroke="#0a0a0a" stroke-width="0.15" textLength="25.30" lengthAdjust="spacingAndGlyphs">VSV-LV</text>
<text x="7.95" y="18.90" font-size="12.5" text-anchor="start" fill="#0a0a0a" font-weight="bold" stroke="#0a0a0a" stroke-width="0.4" >A</text>
<text x="220.85" y="18.60" font-size="12.5" text-anchor="start" fill="#0a0a0a" font-weight="bold" stroke="#0a0a0a" stroke-width="0.4" >B</text>
<text x="7.85" y="195.80" font-size="12.5" text-anchor="start" fill="#0a0a0a" font-weight="bold" stroke="#0a0a0a" stroke-width="0.4" >C</text>
<text x="206.35" y="193.20" font-size="12.5" text-anchor="start" fill="#0a0a0a" font-weight="bold" stroke="#0a0a0a" stroke-width="0.4" >D</text>
<text x="367.95" y="195.40" font-size="12.5" text-anchor="start" fill="#0a0a0a" font-weight="bold" stroke="#0a0a0a" stroke-width="0.4" >E</text>
<line x1="53.90" y1="199.90" x2="53.90" y2="276.40" stroke="#0a0a0a" stroke-width="1.35" />
<line x1="50.60" y1="275.80" x2="129.00" y2="275.80" stroke="#0a0a0a" stroke-width="1.35" />
<line x1="50.60" y1="275.80" x2="53.90" y2="275.80" stroke="#0a0a0a" stroke-width="1.0" />
<text x="46.70" y="278.70" font-size="8.9" text-anchor="end" fill="#0a0a0a" font-weight="normal" stroke="#0a0a0a" stroke-width="0.15" >0</text>
<line x1="50.60" y1="257.65" x2="53.90" y2="257.65" stroke="#0a0a0a" stroke-width="1.0" />
<text x="46.70" y="260.55" font-size="8.9" text-anchor="end" fill="#0a0a0a" font-weight="normal" stroke="#0a0a0a" stroke-width="0.15" >200</text>
<line x1="50.60" y1="239.50" x2="53.90" y2="239.50" stroke="#0a0a0a" stroke-width="1.0" />
<text x="46.70" y="242.40" font-size="8.9" text-anchor="end" fill="#0a0a0a" font-weight="normal" stroke="#0a0a0a" stroke-width="0.15" >400</text>
<line x1="50.60" y1="221.35" x2="53.90" y2="221.35" stroke="#0a0a0a" stroke-width="1.0" />
<text x="46.70" y="224.25" font-size="8.9" text-anchor="end" fill="#0a0a0a" font-weight="normal" stroke="#0a0a0a" stroke-width="0.15" >600</text>
<line x1="50.60" y1="203.20" x2="53.90" y2="203.20" stroke="#0a0a0a" stroke-width="1.0" />
<text x="46.70" y="206.10" font-size="8.9" text-anchor="end" fill="#0a0a0a" font-weight="normal" stroke="#0a0a0a" stroke-width="0.15" >800</text>
<rect x="57.00" y="266.73" width="8.8" height="9.07" fill="#68a842"/>
<line x1="61.40" y1="275.80" x2="61.40" y2="278.80" stroke="#0a0a0a" stroke-width="1.0" />
<rect x="68.10" y="250.75" width="8.8" height="25.05" fill="#68a842"/>
<line x1="72.50" y1="275.80" x2="72.50" y2="278.80" stroke="#0a0a0a" stroke-width="1.0" />
<rect x="81.10" y="266.73" width="8.8" height="9.07" fill="#2c4a82"/>
<line x1="85.50" y1="275.80" x2="85.50" y2="278.80" stroke="#0a0a0a" stroke-width="1.0" />
<rect x="92.20" y="249.94" width="8.8" height="25.86" fill="#2c4a82"/>
<line x1="96.60" y1="249.94" x2="96.60" y2="237.69" stroke="#2c4a82" stroke-width="1.0" />
<line x1="94.60" y1="237.69" x2="98.60" y2="237.69" stroke="#2c4a82" stroke-width="1.0" />
<line x1="96.60" y1="275.80" x2="96.60" y2="278.80" stroke="#0a0a0a" stroke-width="1.0" />
<rect x="105.20" y="266.73" width="8.8" height="9.07" fill="#a6002c"/>
<line x1="109.60" y1="275.80" x2="109.60" y2="278.80" stroke="#0a0a0a" stroke-width="1.0" />
<rect x="116.70" y="227.97" width="8.8" height="47.83" fill="#a6002c"/>
<line x1="121.10" y1="227.97" x2="121.10" y2="217.72" stroke="#a6002c" stroke-width="1.0" />
<line x1="119.10" y1="217.72" x2="123.10" y2="217.72" stroke="#a6002c" stroke-width="1.0" />
<line x1="121.10" y1="275.80" x2="121.10" y2="278.80" stroke="#0a0a0a" stroke-width="1.0" />
<circle cx="61.40" cy="266.73" r="2.3" fill="#fff" stroke="#68a842" stroke-width="0.8"/>
<circle cx="58.80" cy="266.73" r="2.3" fill="#fff" stroke="#68a842" stroke-width="0.8"/>
<circle cx="64.00" cy="266.73" r="2.3" fill="#fff" stroke="#68a842" stroke-width="0.8"/>
<circle cx="72.50" cy="249.66" r="2.3" fill="#fff" stroke="#68a842" stroke-width="0.8"/>
<circle cx="72.50" cy="254.47" r="2.3" fill="#fff" stroke="#68a842" stroke-width="0.8"/>
<circle cx="75.00" cy="249.03" r="2.3" fill="#fff" stroke="#68a842" stroke-width="0.8"/>
<circle cx="69.90" cy="249.03" r="2.3" fill="#fff" stroke="#68a842" stroke-width="0.8"/>
<circle cx="85.50" cy="266.73" r="2.3" fill="#fff" stroke="#2c4a82" stroke-width="0.8"/>
<circle cx="82.70" cy="266.73" r="2.3" fill="#fff" stroke="#2c4a82" stroke-width="0.8"/>
<circle cx="88.30" cy="266.73" r="2.3" fill="#fff" stroke="#2c4a82" stroke-width="0.8"/>
<circle cx="96.60" cy="256.29" r="2.3" fill="#fff" stroke="#2c4a82" stroke-width="0.8"/>
<circle cx="96.60" cy="231.70" r="2.3" fill="#fff" stroke="#2c4a82" stroke-width="0.8"/>
<circle cx="93.70" cy="255.84" r="2.3" fill="#fff" stroke="#2c4a82" stroke-width="0.8"/>
<circle cx="99.50" cy="255.84" r="2.3" fill="#fff" stroke="#2c4a82" stroke-width="0.8"/>
<circle cx="107.00" cy="266.73" r="2.3" fill="#fff" stroke="#a6002c" stroke-width="0.8"/>
<circle cx="112.20" cy="266.73" r="2.3" fill="#fff" stroke="#a6002c" stroke-width="0.8"/>
<circle cx="121.10" cy="217.54" r="2.3" fill="#fff" stroke="#a6002c" stroke-width="0.8"/>
<circle cx="121.10" cy="226.07" r="2.3" fill="#fff" stroke="#a6002c" stroke-width="0.8"/>
<circle cx="121.10" cy="239.32" r="2.3" fill="#fff" stroke="#a6002c" stroke-width="0.8"/>
<line x1="60.30" y1="287.60" x2="62.50" y2="287.60" stroke="#0a0a0a" stroke-width="0.9" />
<line x1="70.00" y1="287.60" x2="75.00" y2="287.60" stroke="#0a0a0a" stroke-width="0.9" />
<line x1="72.50" y1="285.10" x2="72.50" y2="290.10" stroke="#0a0a0a" stroke-width="0.9" />
<line x1="84.40" y1="287.60" x2="86.60" y2="287.60" stroke="#0a0a0a" stroke-width="0.9" />
<line x1="94.10" y1="287.60" x2="99.10" y2="287.60" stroke="#0a0a0a" stroke-width="0.9" />
<line x1="96.60" y1="285.10" x2="96.60" y2="290.10" stroke="#0a0a0a" stroke-width="0.9" />
<line x1="108.50" y1="287.60" x2="110.70" y2="287.60" stroke="#0a0a0a" stroke-width="0.9" />
<line x1="118.60" y1="287.60" x2="123.60" y2="287.60" stroke="#0a0a0a" stroke-width="0.9" />
<line x1="121.10" y1="285.10" x2="121.10" y2="290.10" stroke="#0a0a0a" stroke-width="0.9" />
<line x1="164.40" y1="199.90" x2="164.40" y2="276.60" stroke="#0a0a0a" stroke-width="1.35" />
<line x1="161.10" y1="276.00" x2="189.30" y2="276.00" stroke="#0a0a0a" stroke-width="1.35" />
<line x1="161.10" y1="276.00" x2="164.40" y2="276.00" stroke="#0a0a0a" stroke-width="1.0" />
<text x="157.55" y="278.90" font-size="8.5" text-anchor="end" fill="#0a0a0a" font-weight="normal" stroke="#0a0a0a" stroke-width="0.15" >0</text>
<line x1="161.10" y1="251.80" x2="164.40" y2="251.80" stroke="#0a0a0a" stroke-width="1.0" />
<text x="157.55" y="254.70" font-size="8.5" text-anchor="end" fill="#0a0a0a" font-weight="normal" stroke="#0a0a0a" stroke-width="0.15" >50</text>
<line x1="161.10" y1="227.60" x2="164.40" y2="227.60" stroke="#0a0a0a" stroke-width="1.0" />
<text x="157.55" y="230.50" font-size="8.5" text-anchor="end" fill="#0a0a0a" font-weight="normal" stroke="#0a0a0a" stroke-width="0.15" >100</text>
<line x1="161.10" y1="203.40" x2="164.40" y2="203.40" stroke="#0a0a0a" stroke-width="1.0" />
<text x="157.55" y="206.30" font-size="8.5" text-anchor="end" fill="#0a0a0a" font-weight="normal" stroke="#0a0a0a" stroke-width="0.15" >150</text>
<rect x="167.85" y="227.60" width="7.5" height="48.40" fill="#4e5464"/>
<line x1="171.60" y1="276.00" x2="171.60" y2="279.00" stroke="#0a0a0a" stroke-width="1.0" />
<rect x="178.05" y="259.06" width="7.5" height="16.94" fill="#4e5464"/>
<line x1="181.80" y1="276.00" x2="181.80" y2="279.00" stroke="#0a0a0a" stroke-width="1.0" />
<circle cx="169.20" cy="227.60" r="2.3" fill="#fff" stroke="#4e5464" stroke-width="0.8"/>
<circle cx="174.00" cy="227.60" r="2.3" fill="#fff" stroke="#4e5464" stroke-width="0.8"/>
<circle cx="181.80" cy="263.90" r="2.3" fill="#fff" stroke="#4e5464" stroke-width="0.8"/>
<circle cx="184.10" cy="257.12" r="2.3" fill="#fff" stroke="#4e5464" stroke-width="0.8"/>
<circle cx="179.40" cy="255.19" r="2.3" fill="#fff" stroke="#4e5464" stroke-width="0.8"/>
<line x1="170.50" y1="287.60" x2="172.70" y2="287.60" stroke="#0a0a0a" stroke-width="0.9" />
<line x1="179.30" y1="287.60" x2="184.30" y2="287.60" stroke="#0a0a0a" stroke-width="0.9" />
<line x1="181.80" y1="285.10" x2="181.80" y2="290.10" stroke="#0a0a0a" stroke-width="0.9" />
<text x="27.12" y="290.20" font-size="8.9" fill="#0a0a0a" stroke="#0a0a0a" stroke-width="0.15" textLength="19.25" lengthAdjust="spacingAndGlyphs">Bfla1</text>
<text transform="translate(25.30,261.80) rotate(-90)" x="0" y="0" font-size="10.0" fill="#0a0a0a" stroke="#0a0a0a" stroke-width="0.3" textLength="49.0" lengthAdjust="spacingAndGlyphs">Rel. transd. (%)</text>
<line x1="252.85" y1="197.30" x2="252.85" y2="274.10" stroke="#0a0a0a" stroke-width="1.35" />
<line x1="249.55" y1="273.50" x2="350.90" y2="273.50" stroke="#0a0a0a" stroke-width="1.35" />
<line x1="249.55" y1="273.50" x2="252.85" y2="273.50" stroke="#0a0a0a" stroke-width="1.0" />
<text x="246.25" y="276.40" font-size="8.5" text-anchor="end" fill="#0a0a0a" font-weight="normal" stroke="#0a0a0a" stroke-width="0.15" >0</text>
<line x1="249.55" y1="255.35" x2="252.85" y2="255.35" stroke="#0a0a0a" stroke-width="1.0" />
<text x="246.25" y="258.25" font-size="8.5" text-anchor="end" fill="#0a0a0a" font-weight="normal" stroke="#0a0a0a" stroke-width="0.15" >50</text>
<line x1="249.55" y1="237.20" x2="252.85" y2="237.20" stroke="#0a0a0a" stroke-width="1.0" />
<text x="246.25" y="240.10" font-size="8.5" text-anchor="end" fill="#0a0a0a" font-weight="normal" stroke="#0a0a0a" stroke-width="0.15" >100</text>
<line x1="249.55" y1="219.05" x2="252.85" y2="219.05" stroke="#0a0a0a" stroke-width="1.0" />
<text x="246.25" y="221.95" font-size="8.5" text-anchor="end" fill="#0a0a0a" font-weight="normal" stroke="#0a0a0a" stroke-width="0.15" >150</text>
<line x1="249.55" y1="200.90" x2="252.85" y2="200.90" stroke="#0a0a0a" stroke-width="1.0" />
<text x="246.25" y="203.80" font-size="8.5" text-anchor="end" fill="#0a0a0a" font-weight="normal" stroke="#0a0a0a" stroke-width="0.15" >200</text>
<rect x="256.10" y="237.93" width="8.4" height="35.57" fill="#68a842"/>
<line x1="260.30" y1="273.50" x2="260.30" y2="276.50" stroke="#0a0a0a" stroke-width="1.0" />
<rect x="267.30" y="211.06" width="8.4" height="62.44" fill="#68a842"/>
<line x1="271.50" y1="273.50" x2="271.50" y2="276.50" stroke="#0a0a0a" stroke-width="1.0" />
<rect x="280.10" y="235.75" width="8.4" height="37.75" fill="#2c4a82"/>
<line x1="284.30" y1="273.50" x2="284.30" y2="276.50" stroke="#0a0a0a" stroke-width="1.0" />
<rect x="291.20" y="226.67" width="8.4" height="46.83" fill="#2c4a82"/>
<line x1="295.40" y1="273.50" x2="295.40" y2="276.50" stroke="#0a0a0a" stroke-width="1.0" />
<rect x="303.90" y="237.93" width="8.4" height="35.57" fill="#a6002c"/>
<line x1="308.10" y1="237.93" x2="308.10" y2="227.40" stroke="#a6002c" stroke-width="1.0" />
<line x1="306.10" y1="227.40" x2="310.10" y2="227.40" stroke="#a6002c" stroke-width="1.0" />
<line x1="308.10" y1="273.50" x2="308.10" y2="276.50" stroke="#0a0a0a" stroke-width="1.0" />
<rect x="315.10" y="217.60" width="8.4" height="55.90" fill="#a6002c"/>
<line x1="319.30" y1="273.50" x2="319.30" y2="276.50" stroke="#0a0a0a" stroke-width="1.0" />
<rect x="327.80" y="235.38" width="8.4" height="38.12" fill="#4e5464"/>
<line x1="332.00" y1="273.50" x2="332.00" y2="276.50" stroke="#0a0a0a" stroke-width="1.0" />
<rect x="338.90" y="256.44" width="8.4" height="17.06" fill="#4e5464"/>
<line x1="343.10" y1="273.50" x2="343.10" y2="276.50" stroke="#0a0a0a" stroke-width="1.0" />
<circle cx="260.30" cy="232.48" r="2.3" fill="#fff" stroke="#68a842" stroke-width="0.8"/>
<circle cx="260.30" cy="238.29" r="2.3" fill="#fff" stroke="#68a842" stroke-width="0.8"/>
<circle cx="260.30" cy="241.56" r="2.3" fill="#fff" stroke="#68a842" stroke-width="0.8"/>
<circle cx="269.20" cy="205.62" r="2.3" fill="#fff" stroke="#68a842" stroke-width="0.8"/>
<circle cx="273.80" cy="209.25" r="2.3" fill="#fff" stroke="#68a842" stroke-width="0.8"/>
<circle cx="269.20" cy="212.88" r="2.3" fill="#fff" stroke="#68a842" stroke-width="0.8"/>
<circle cx="284.30" cy="241.56" r="2.3" fill="#fff" stroke="#2c4a82" stroke-width="0.8"/>
<circle cx="281.90" cy="235.75" r="2.3" fill="#fff" stroke="#2c4a82" stroke-width="0.8"/>
<circle cx="286.70" cy="235.75" r="2.3" fill="#fff" stroke="#2c4a82" stroke-width="0.8"/>
<circle cx="295.40" cy="232.84" r="2.3" fill="#fff" stroke="#2c4a82" stroke-width="0.8"/>
<circle cx="293.10" cy="221.59" r="2.3" fill="#fff" stroke="#2c4a82" stroke-width="0.8"/>
<circle cx="297.70" cy="224.86" r="2.3" fill="#fff" stroke="#2c4a82" stroke-width="0.8"/>
<circle cx="308.10" cy="227.40" r="2.3" fill="#fff" stroke="#a6002c" stroke-width="0.8"/>
<circle cx="308.10" cy="237.93" r="2.3" fill="#fff" stroke="#a6002c" stroke-width="0.8"/>
<circle cx="308.10" cy="247.00" r="2.3" fill="#fff" stroke="#a6002c" stroke-width="0.8"/>
<circle cx="319.30" cy="211.79" r="2.3" fill="#fff" stroke="#a6002c" stroke-width="0.8"/>
<circle cx="319.30" cy="216.87" r="2.3" fill="#fff" stroke="#a6002c" stroke-width="0.8"/>
<circle cx="319.30" cy="221.59" r="2.3" fill="#fff" stroke="#a6002c" stroke-width="0.8"/>
<circle cx="329.60" cy="234.30" r="2.3" fill="#fff" stroke="#4e5464" stroke-width="0.8"/>
<circle cx="334.40" cy="236.11" r="2.3" fill="#fff" stroke="#4e5464" stroke-width="0.8"/>
<circle cx="329.60" cy="239.74" r="2.3" fill="#fff" stroke="#4e5464" stroke-width="0.8"/>
<circle cx="343.70" cy="254.62" r="2.3" fill="#fff" stroke="#4e5464" stroke-width="0.8"/>
<circle cx="340.50" cy="256.44" r="2.3" fill="#fff" stroke="#4e5464" stroke-width="0.8"/>
<circle cx="346.70" cy="255.71" r="2.3" fill="#fff" stroke="#4e5464" stroke-width="0.8"/>
<line x1="259.20" y1="285.60" x2="261.40" y2="285.60" stroke="#0a0a0a" stroke-width="0.9" />
<line x1="269.00" y1="285.60" x2="274.00" y2="285.60" stroke="#0a0a0a" stroke-width="0.9" />
<line x1="271.50" y1="283.10" x2="271.50" y2="288.10" stroke="#0a0a0a" stroke-width="0.9" />
<line x1="283.20" y1="285.60" x2="285.40" y2="285.60" stroke="#0a0a0a" stroke-width="0.9" />
<line x1="292.90" y1="285.60" x2="297.90" y2="285.60" stroke="#0a0a0a" stroke-width="0.9" />
<line x1="295.40" y1="283.10" x2="295.40" y2="288.10" stroke="#0a0a0a" stroke-width="0.9" />
<line x1="307.00" y1="285.60" x2="309.20" y2="285.60" stroke="#0a0a0a" stroke-width="0.9" />
<line x1="316.80" y1="285.60" x2="321.80" y2="285.60" stroke="#0a0a0a" stroke-width="0.9" />
<line x1="319.30" y1="283.10" x2="319.30" y2="288.10" stroke="#0a0a0a" stroke-width="0.9" />
<line x1="330.90" y1="285.60" x2="333.10" y2="285.60" stroke="#0a0a0a" stroke-width="0.9" />
<line x1="340.60" y1="285.60" x2="345.60" y2="285.60" stroke="#0a0a0a" stroke-width="0.9" />
<line x1="343.10" y1="283.10" x2="343.10" y2="288.10" stroke="#0a0a0a" stroke-width="0.9" />
<text transform="translate(224.70,260.90) rotate(-90)" x="0" y="0" font-size="10.0" fill="#0a0a0a" stroke="#0a0a0a" stroke-width="0.3" textLength="51.0" lengthAdjust="spacingAndGlyphs">Rel. transd. (%)</text>
<text x="220.8" y="287.8" font-size="8.5" fill="#0a0a0a" stroke="#0a0a0a" stroke-width="0.15" textLength="25.3" lengthAdjust="spacingAndGlyphs">NH<tspan font-size="5.8" dy="1.8">4</tspan><tspan dy="-1.8">Cl</tspan></text>
<line x1="413.40" y1="199.90" x2="413.40" y2="276.40" stroke="#0a0a0a" stroke-width="1.35" />
<line x1="410.10" y1="275.80" x2="511.90" y2="275.80" stroke="#0a0a0a" stroke-width="1.35" />
<line x1="410.10" y1="275.80" x2="413.40" y2="275.80" stroke="#0a0a0a" stroke-width="1.0" />
<text x="406.65" y="278.70" font-size="8.5" text-anchor="end" fill="#0a0a0a" font-weight="normal" stroke="#0a0a0a" stroke-width="0.15" >0</text>
<line x1="410.10" y1="251.60" x2="413.40" y2="251.60" stroke="#0a0a0a" stroke-width="1.0" />
<text x="406.65" y="254.50" font-size="8.5" text-anchor="end" fill="#0a0a0a" font-weight="normal" stroke="#0a0a0a" stroke-width="0.15" >50</text>
<line x1="410.10" y1="227.40" x2="413.40" y2="227.40" stroke="#0a0a0a" stroke-width="1.0" />
<text x="406.65" y="230.30" font-size="8.5" text-anchor="end" fill="#0a0a0a" font-weight="normal" stroke="#0a0a0a" stroke-width="0.15" >100</text>
<line x1="410.10" y1="203.20" x2="413.40" y2="203.20" stroke="#0a0a0a" stroke-width="1.0" />
<text x="406.65" y="206.10" font-size="8.5" text-anchor="end" fill="#0a0a0a" font-weight="normal" stroke="#0a0a0a" stroke-width="0.15" >150</text>
<rect x="418.35" y="225.95" width="8.1" height="49.85" fill="#68a842"/>
<line x1="422.40" y1="275.80" x2="422.40" y2="278.80" stroke="#0a0a0a" stroke-width="1.0" />
<rect x="429.35" y="221.11" width="8.1" height="54.69" fill="#68a842"/>
<line x1="433.40" y1="275.80" x2="433.40" y2="278.80" stroke="#0a0a0a" stroke-width="1.0" />
<rect x="441.45" y="227.40" width="8.1" height="48.40" fill="#2c4a82"/>
<line x1="445.50" y1="275.80" x2="445.50" y2="278.80" stroke="#0a0a0a" stroke-width="1.0" />
<rect x="452.25" y="220.62" width="8.1" height="55.18" fill="#2c4a82"/>
<line x1="456.30" y1="275.80" x2="456.30" y2="278.80" stroke="#0a0a0a" stroke-width="1.0" />
<rect x="464.45" y="227.88" width="8.1" height="47.92" fill="#a6002c"/>
<line x1="468.50" y1="275.80" x2="468.50" y2="278.80" stroke="#0a0a0a" stroke-width="1.0" />
<rect x="475.25" y="224.50" width="8.1" height="51.30" fill="#a6002c"/>
<line x1="479.30" y1="275.80" x2="479.30" y2="278.80" stroke="#0a0a0a" stroke-width="1.0" />
<rect x="487.45" y="228.37" width="8.1" height="47.43" fill="#4e5464"/>
<line x1="491.50" y1="228.37" x2="491.50" y2="219.66" stroke="#4e5464" stroke-width="1.0" />
<line x1="489.50" y1="219.66" x2="493.50" y2="219.66" stroke="#4e5464" stroke-width="1.0" />
<line x1="491.50" y1="275.80" x2="491.50" y2="278.80" stroke="#0a0a0a" stroke-width="1.0" />
<rect x="498.45" y="254.99" width="8.1" height="20.81" fill="#4e5464"/>
<line x1="502.50" y1="254.99" x2="502.50" y2="245.79" stroke="#4e5464" stroke-width="1.0" />
<line x1="500.50" y1="245.79" x2="504.50" y2="245.79" stroke="#4e5464" stroke-width="1.0" />
<line x1="502.50" y1="275.80" x2="502.50" y2="278.80" stroke="#0a0a0a" stroke-width="1.0" />
<circle cx="424.80" cy="225.95" r="2.3" fill="#fff" stroke="#68a842" stroke-width="0.8"/>
<circle cx="419.90" cy="225.95" r="2.3" fill="#fff" stroke="#68a842" stroke-width="0.8"/>
<circle cx="431.00" cy="221.11" r="2.3" fill="#fff" stroke="#68a842" stroke-width="0.8"/>
<circle cx="436.00" cy="221.11" r="2.3" fill="#fff" stroke="#68a842" stroke-width="0.8"/>
<circle cx="443.10" cy="228.85" r="2.3" fill="#fff" stroke="#2c4a82" stroke-width="0.8"/>
<circle cx="447.90" cy="225.46" r="2.3" fill="#fff" stroke="#2c4a82" stroke-width="0.8"/>
<circle cx="453.90" cy="220.14" r="2.3" fill="#fff" stroke="#2c4a82" stroke-width="0.8"/>
<circle cx="458.90" cy="220.14" r="2.3" fill="#fff" stroke="#2c4a82" stroke-width="0.8"/>
<circle cx="470.50" cy="226.92" r="2.3" fill="#fff" stroke="#a6002c" stroke-width="0.8"/>
<circle cx="465.90" cy="227.88" r="2.3" fill="#fff" stroke="#a6002c" stroke-width="0.8"/>
<circle cx="481.40" cy="223.53" r="2.3" fill="#fff" stroke="#a6002c" stroke-width="0.8"/>
<circle cx="477.10" cy="224.50" r="2.3" fill="#fff" stroke="#a6002c" stroke-width="0.8"/>
<circle cx="491.50" cy="221.35" r="2.3" fill="#fff" stroke="#4e5464" stroke-width="0.8"/>
<circle cx="491.50" cy="232.72" r="2.3" fill="#fff" stroke="#4e5464" stroke-width="0.8"/>
<circle cx="502.50" cy="248.21" r="2.3" fill="#fff" stroke="#4e5464" stroke-width="0.8"/>
<circle cx="502.50" cy="260.31" r="2.3" fill="#fff" stroke="#4e5464" stroke-width="0.8"/>
<line x1="421.30" y1="287.60" x2="423.50" y2="287.60" stroke="#0a0a0a" stroke-width="0.9" />
<line x1="430.90" y1="287.60" x2="435.90" y2="287.60" stroke="#0a0a0a" stroke-width="0.9" />
<line x1="433.40" y1="285.10" x2="433.40" y2="290.10" stroke="#0a0a0a" stroke-width="0.9" />
<line x1="444.40" y1="287.60" x2="446.60" y2="287.60" stroke="#0a0a0a" stroke-width="0.9" />
<line x1="453.80" y1="287.60" x2="458.80" y2="287.60" stroke="#0a0a0a" stroke-width="0.9" />
<line x1="456.30" y1="285.10" x2="456.30" y2="290.10" stroke="#0a0a0a" stroke-width="0.9" />
<line x1="467.40" y1="287.60" x2="469.60" y2="287.60" stroke="#0a0a0a" stroke-width="0.9" />
<line x1="476.80" y1="287.60" x2="481.80" y2="287.60" stroke="#0a0a0a" stroke-width="0.9" />
<line x1="479.30" y1="285.10" x2="479.30" y2="290.10" stroke="#0a0a0a" stroke-width="0.9" />
<line x1="490.40" y1="287.60" x2="492.60" y2="287.60" stroke="#0a0a0a" stroke-width="0.9" />
<line x1="500.00" y1="287.60" x2="505.00" y2="287.60" stroke="#0a0a0a" stroke-width="0.9" />
<line x1="502.50" y1="285.10" x2="502.50" y2="290.10" stroke="#0a0a0a" stroke-width="0.9" />
<text x="386.80" y="290.30" font-size="8.4" text-anchor="start" fill="#0a0a0a" font-weight="normal" stroke="#0a0a0a" stroke-width="0.15" >Bfla1</text>
<text transform="translate(386.40,262.80) rotate(-90)" x="0" y="0" font-size="10.0" fill="#0a0a0a" stroke="#0a0a0a" stroke-width="0.3" textLength="50.5" lengthAdjust="spacingAndGlyphs">Rel. transd. (%)</text>
<circle cx="150.8" cy="303.5" r="2.15" fill="#fff" stroke="#68a842" stroke-width="1.1"/>
<text x="156.75" y="306.30" font-size="8.5" fill="#0a0a0a" stroke="#0a0a0a" stroke-width="0.15" textLength="29.91" lengthAdjust="spacingAndGlyphs">TR66-LV</text>
<circle cx="205.4" cy="303.5" r="2.15" fill="#fff" stroke="#2c4a82" stroke-width="1.1"/>
<text x="211.85" y="306.30" font-size="8.5" fill="#0a0a0a" stroke="#0a0a0a" stroke-width="0.15" textLength="43.10" lengthAdjust="spacingAndGlyphs">TR66.opt-LV</text>
<circle cx="273.8" cy="303.5" r="2.15" fill="#fff" stroke="#a6002c" stroke-width="1.1"/>
<text x="278.86" y="306.30" font-size="8.5" fill="#0a0a0a" stroke="#0a0a0a" stroke-width="0.15" textLength="41.99" lengthAdjust="spacingAndGlyphs">HuM291-LV</text>
<circle cx="339.7" cy="303.5" r="2.15" fill="#fff" stroke="#4e5464" stroke-width="1.1"/>
<text x="345.46" y="306.30" font-size="8.5" fill="#0a0a0a" stroke="#0a0a0a" stroke-width="0.15" textLength="25.30" lengthAdjust="spacingAndGlyphs">VSV-LV</text>
<rect x="0" y="0" width="520" height="1.15" fill="#000"/><rect x="0" y="0" width="1.5" height="316" fill="#000"/><rect x="518.5" y="0" width="1.5" height="316" fill="#000"/><rect x="0" y="314.5" width="520" height="1.5" fill="#000"/>
</svg>
</body></html>
